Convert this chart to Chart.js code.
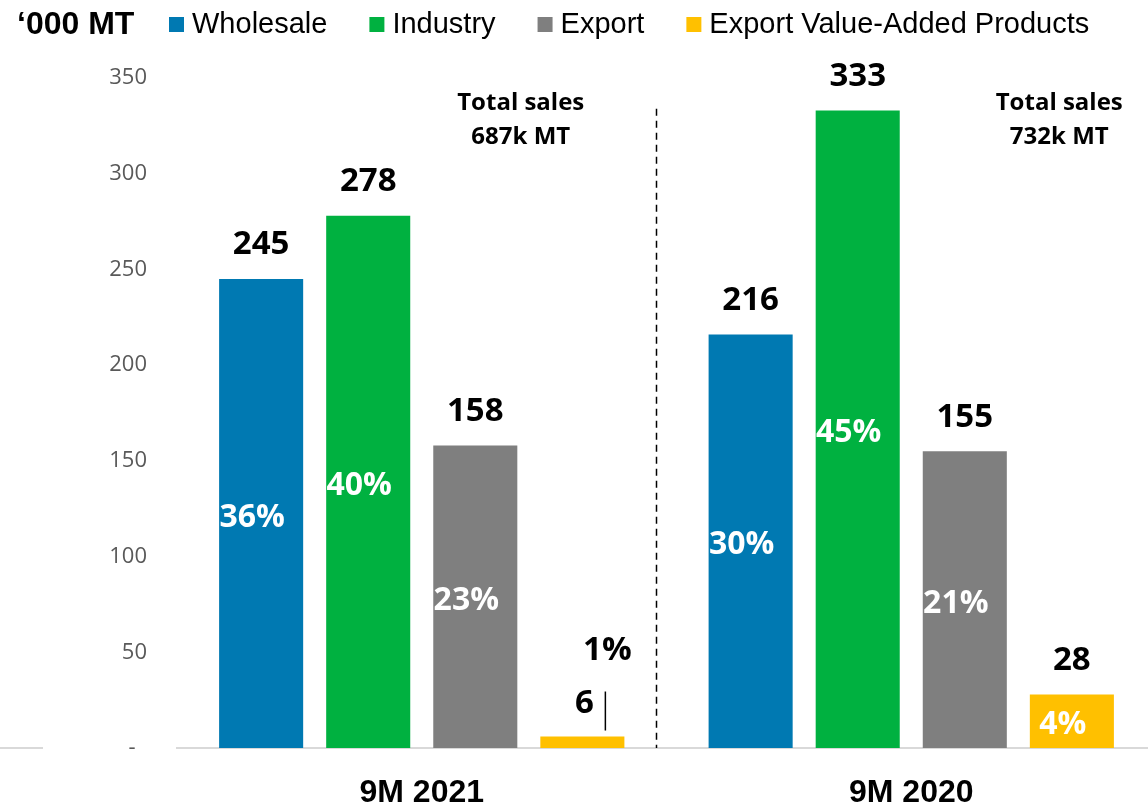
<!DOCTYPE html>
<html>
<head>
<meta charset="utf-8">
<script src="https://cdn.jsdelivr.net/npm/chart.js@4.4.1/dist/chart.umd.min.js"></script>
<style>
  body { margin: 0; background: #fff; overflow: hidden; }
  #wrap { width: 1148px; height: 811px; position: relative; overflow: hidden; }
</style>
</head>
<body>
<!-- plot runs a few px past the right edge, as on the slide -->
<div id="wrap"><canvas id="salesChart" width="1156" height="811"></canvas></div>
<script>
// data ('000 MT)
let categories = ["9M 2021", "9M 2020"];
let seriesNames = ["Wholesale", "Industry", "Export", "Export Value-Added Products"];
let wholesale = [245, 216];
let industry = [278, 333];
let exportVol = [158, 155];
let exportVap = [6, 28];
// share of total sales, %
let wholesaleShare = [36, 30];
let industryShare = [40, 45];
let exportShare = [23, 21];
let exportVapShare = [1, 4];
let totalSales = [687, 732];
let yTicks = [0, 50, 100, 150, 200, 250, 300, 350];

let colors = ["#0079b2", "#00b140", "#7f7f7f", "#ffc000"];
let shares = [wholesaleShare, industryShare, exportShare, exportVapShare];

let labelFont = "'Open Sans', 'DejaVu Sans', sans-serif";
let arial = "'Liberation Sans', Arial, sans-serif";

let extras = {
  id: "extras",
  afterDraw(chart) {
    let ctx = chart.ctx;
    let x = chart.scales.x, y = chart.scales.y;
    ctx.save();

    // unit + legend row
    ctx.textBaseline = "middle";
    ctx.textAlign = "left";
    ctx.fillStyle = "#000";
    ctx.font = "bold 32px " + arial;
    ctx.fillText("\u2018000 MT", 17, 25);
    ctx.font = "29px " + arial;
    let lx = 169;
    chart.data.datasets.forEach(function (ds) {
      ctx.fillStyle = ds.backgroundColor;
      ctx.fillRect(lx, 17, 15, 15);
      ctx.fillStyle = "#000";
      ctx.fillText(ds.label, lx + 23, 25);
      lx += 23 + ctx.measureText(ds.label).width + 42;
    });

    // little stub of the baseline left of the axis labels
    let y0 = y.getPixelForValue(0);
    ctx.strokeStyle = "#d9d9d9";
    ctx.lineWidth = 2;
    ctx.beginPath();
    ctx.moveTo(0, y0);
    ctx.lineTo(43, y0);
    ctx.stroke();

    // dashed divider between the periods
    let midX = x.getPixelForValue(0.5) - 10;
    ctx.strokeStyle = "#000";
    ctx.lineWidth = 1.5;
    ctx.setLineDash([7, 5]);
    ctx.beginPath();
    ctx.moveTo(midX, y.getPixelForValue(334));
    ctx.lineTo(midX, y0);
    ctx.stroke();
    ctx.setLineDash([]);

    // bar labels
    chart.data.datasets.forEach(function (ds, di) {
      let meta = chart.getDatasetMeta(di);
      meta.data.forEach(function (bar, i) {
        let v = ds.data[i];
        let h = bar.base - bar.y;
        ctx.textAlign = "center";
        ctx.textBaseline = "middle";
        ctx.font = "bold 33px " + labelFont;
        ctx.fillStyle = "#000";
        if (h < 30) {
          ctx.fillText(String(v), bar.x + 2, bar.y - 33);
          ctx.fillText(shares[di][i] + "%", bar.x + 25, bar.y - 86);
          ctx.lineWidth = 1.5;
          ctx.beginPath();
          ctx.moveTo(bar.x + 23, bar.y - 45);
          ctx.lineTo(bar.x + 23, bar.y - 6);
          ctx.stroke();
        } else {
          ctx.fillText(String(v), bar.x, bar.y - 34);
          ctx.font = "bold 32px " + labelFont;
          ctx.fillStyle = "#fff";
          ctx.fillText(shares[di][i] + "%", bar.x - 9, (bar.y + bar.base) / 2 + 4);
        }
      });
    });

    // total sales notes
    ctx.fillStyle = "#000";
    ctx.font = "bold 24px " + labelFont;
    ctx.textAlign = "center";
    let noteX = [x.getPixelForValue(0) + 99, x.getPixelForValue(1) + 148];
    totalSales.forEach(function (t, i) {
      ctx.fillText("Total sales", noteX[i], y.getPixelForValue(337));
      ctx.fillText(t + "k MT", noteX[i], y.getPixelForValue(319));
    });
    ctx.restore();
  }
};

new Chart(document.getElementById("salesChart"), {
  type: "bar",
  data: {
    labels: categories,
    datasets: [
      { label: seriesNames[0], data: wholesale, backgroundColor: colors[0] },
      { label: seriesNames[1], data: industry, backgroundColor: colors[1] },
      { label: seriesNames[2], data: exportVol, backgroundColor: colors[2] },
      { label: seriesNames[3], data: exportVap, backgroundColor: colors[3] }
    ]
  },
  options: {
    responsive: false,
    animation: false,
    categoryPercentage: 0.875,
    barPercentage: 0.785,
    layout: { padding: { top: 78, right: 0, bottom: 0, left: 0 } },
    plugins: {
      legend: { display: false },
      tooltip: { enabled: false }
    },
    scales: {
      x: {
        grid: { display: false, drawTicks: false },
        border: { display: true, color: "#d9d9d9", width: 2 },
        afterFit: function (scale) { scale.height = 63; },
        ticks: {
          color: "#000",
          padding: 26,
          font: { family: arial, size: 32, weight: "bold" }
        }
      },
      y: {
        min: yTicks[0],
        max: yTicks[yTicks.length - 1],
        grid: { display: false, drawTicks: false },
        border: { display: false },
        afterFit: function (scale) { scale.width = 177; },
        afterBuildTicks: function (scale) {
          scale.ticks = yTicks.map(function (v) { return { value: v }; });
        },
        ticks: {
          color: "#595959",
          padding: 30,
          font: { family: labelFont, size: 22 },
          callback: function (v) { return v === 0 ? "-  " : v; }
        }
      }
    }
  },
  plugins: [extras]
});
</script>
</body>
</html>
